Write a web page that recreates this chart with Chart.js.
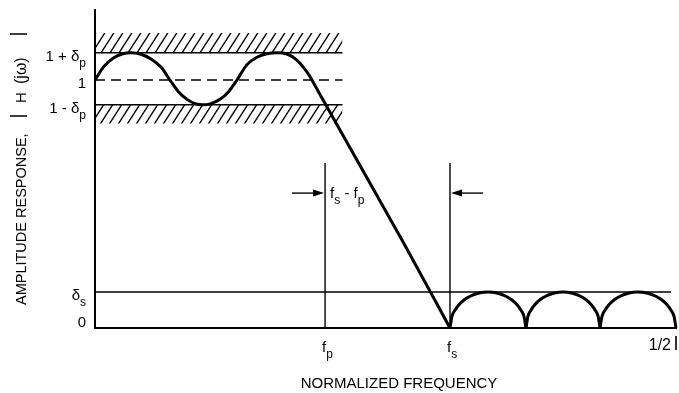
<!DOCTYPE html>
<html>
<head>
<meta charset="utf-8">
<script src="https://cdn.jsdelivr.net/npm/chart.js@4.4.1/dist/chart.umd.min.js"></script>
<style>
  html, body { margin: 0; padding: 0; background: #fff; }
  #wrap { width: 679px; height: 393px; position: relative; }
</style>
</head>
<body>
<div id="wrap"><canvas id="spec"></canvas></div>
<script>
// Lowpass filter tolerance scheme
var fp = 0.198;
var fs = 0.3055;
var fHalf = 0.5;
var passUpper = 1.11;     // 1 + delta_p
var passLower = 0.90;     // 1 - delta_p
var hatchTop = 1.19;
var hatchBottom = 0.825;
var hatchEnd = 0.213;
var deltaS = 0.145;
var stopLineEnd = 0.4957;
var markerTop = 0.665;
var arrowLevel = 0.544;
var arrowTails = [0.1695, 0.334];

// passband ripple + transition band
var passFreq = [0, 0.0077, 0.0155, 0.0232, 0.031, 0.0396, 0.0482, 0.0568, 0.0645,
  0.0714, 0.0792, 0.0861, 0.0929, 0.0998, 0.1076, 0.1153, 0.1222,
  0.1308, 0.1394, 0.148, 0.1566, 0.1652, 0.173, 0.1799, 0.1850, 0.1867,
  0.1997, 0.2108, 0.2642, 0.3055];
var passAmp = [1.0, 1.055, 1.088, 1.105, 1.11, 1.104, 1.085, 1.052, 1.0,
  0.955, 0.922, 0.905, 0.90, 0.905, 0.922, 0.955, 1.0,
  1.062, 1.092, 1.106, 1.11, 1.105, 1.083, 1.048, 1.014, 1.0,
  0.891, 0.798, 0.355, 0];

// stopband lobes
var arc1Freq = [0.3055, 0.3072, 0.3098, 0.3132, 0.3176, 0.3228, 0.3298, 0.3382,
  0.3466, 0.3536, 0.3588, 0.3632, 0.3666, 0.3692, 0.3709];
var arc2Freq = [0.3709, 0.3726, 0.3751, 0.3785, 0.3827, 0.3878, 0.3946, 0.4028,
  0.411, 0.4178, 0.4229, 0.4271, 0.4305, 0.433, 0.4346];
var arc3Freq = [0.4346, 0.4363, 0.4389, 0.4423, 0.4467, 0.4519, 0.4589, 0.4673,
  0.4757, 0.4827, 0.4879, 0.4923, 0.4957, 0.4983, 0.5];
var arcAmp = [0, 0.047, 0.072, 0.094, 0.113, 0.128, 0.140, 0.145,
  0.140, 0.128, 0.113, 0.094, 0.072, 0.047, 0];

var yTickLabels = [
  { value: passUpper, main: '1 + \u03b4', sub: 'p' },
  { value: 1, main: '1', sub: '' },
  { value: passLower, main: '1 - \u03b4', sub: 'p' },
  { value: deltaS, main: '\u03b4', sub: 's' },
  { value: 0, main: '0', sub: '' }
];
var xTickLabels = [
  { value: fp, main: 'f', sub: 'p' },
  { value: fs, main: 'f', sub: 's' }
];

var FONT = '"Liberation Sans", Arial, sans-serif';

function pts(xs, ys) {
  return xs.map(function(x, i) { return { x: x, y: ys[i] }; });
}
function hline(y, x0, x1) {
  return [{ x: x0, y: y }, { x: x1, y: y }];
}
function vline(x, y0, y1) {
  return [{ x: x, y: y0 }, { x: x, y: y1 }];
}

function makeHatch() {
  var c = document.createElement('canvas');
  c.width = 9; c.height = 14;
  var g = c.getContext('2d');
  g.strokeStyle = '#000';
  g.lineWidth = 1.4;
  g.beginPath();
  for (var k = -1; k <= 1; k++) {
    g.moveTo(k * 9 - 1, 14 + 14 / 9);
    g.lineTo(k * 9 + 10, -14 / 9);
  }
  g.stroke();
  return g.createPattern(c, 'repeat');
}

// text with a subscript, aligned 'left' | 'right'
function drawSub(ctx, main, sub, x, y, align, size, subSize) {
  ctx.font = size + 'px ' + FONT;
  var wm = ctx.measureText(main).width;
  ctx.font = subSize + 'px ' + FONT;
  var ws = sub ? ctx.measureText(sub).width : 0;
  var sx = align === 'right' ? x - wm - ws : x;
  ctx.textAlign = 'left';
  ctx.textBaseline = 'alphabetic';
  ctx.font = size + 'px ' + FONT;
  ctx.fillText(main, sx, y);
  if (sub) {
    ctx.font = subSize + 'px ' + FONT;
    ctx.fillText(sub, sx + wm, y + 6);
  }
  return sx + wm + ws;
}

function arrowHead(ctx, tipX, y, dir) {
  ctx.beginPath();
  ctx.moveTo(tipX, y);
  ctx.lineTo(tipX - dir * 11, y - 3.5);
  ctx.lineTo(tipX - dir * 11, y + 3.5);
  ctx.closePath();
  ctx.fill();
}

var labelPlugin = {
  id: 'schemeLabels',
  afterDraw: function(chart) {
    var ctx = chart.ctx;
    var xs = chart.scales.x, ys = chart.scales.y;
    var x0 = xs.getPixelForValue(0), y0 = ys.getPixelForValue(0);
    ctx.save();
    ctx.fillStyle = '#000';
    ctx.strokeStyle = '#000';

    // arrow heads on the transition-width markers
    var ay = ys.getPixelForValue(arrowLevel);
    arrowHead(ctx, xs.getPixelForValue(fp) - 1, ay, 1);
    arrowHead(ctx, xs.getPixelForValue(fs) + 1, ay, -1);

    // fs - fp label
    var lx = xs.getPixelForValue(fp) + 5, ly = ay + 5;
    lx = drawSub(ctx, 'f', 's', lx, ly, 'left', 15, 12);
    lx = drawSub(ctx, ' - f', 'p', lx, ly, 'left', 15, 12);

    // y tick labels
    yTickLabels.forEach(function(t) {
      var py = Math.min(ys.getPixelForValue(t.value) + 8, y0 - 1);
      drawSub(ctx, t.main, t.sub, x0 - 9, py, 'right', 15, 12);
    });

    // x tick labels
    xTickLabels.forEach(function(t) {
      drawSub(ctx, t.main, t.sub, xs.getPixelForValue(t.value) - 3, y0 + 24, 'left', 15, 12);
    });
    var hx = xs.getPixelForValue(fHalf);
    ctx.font = '16px ' + FONT;
    ctx.textAlign = 'right';
    ctx.fillText('1/2', hx - 5, y0 + 22);
    ctx.lineWidth = 1.6;
    ctx.beginPath();
    ctx.moveTo(hx, y0 + 8);
    ctx.lineTo(hx, y0 + 22);
    ctx.stroke();

    // x axis title
    ctx.font = '15px ' + FONT;
    ctx.textAlign = 'center';
    ctx.fillText('NORMALIZED FREQUENCY', 399, 388);

    // y axis title, rotated
    ctx.translate(26, 305);
    ctx.rotate(-Math.PI / 2);
    ctx.textAlign = 'left';
    ctx.font = '14.5px ' + FONT;
    ctx.fillText('AMPLITUDE RESPONSE,', 0, 0);
    ctx.font = '15px ' + FONT;
    ctx.fillText('H', 202, 0);
    ctx.font = '16px ' + FONT;
    ctx.fillText('(j\u03c9)', 221, 0);
    ctx.lineWidth = 1.5;
    ctx.beginPath();
    ctx.moveTo(189, 1); ctx.lineTo(189, -16);
    ctx.moveTo(271, 1); ctx.lineTo(271, -16);
    ctx.stroke();
    ctx.restore();
  }
};

var hatch = makeHatch();
var thin = { borderColor: '#000', borderWidth: 1.4, pointRadius: 0, fill: false };
var curve = { borderColor: '#000', borderWidth: 3, cubicInterpolationMode: 'monotone',
  pointRadius: 0, fill: false, clip: 4 };

var datasets = [
  Object.assign({ data: pts(passFreq, passAmp) }, curve),
  Object.assign({ data: pts(arc1Freq, arcAmp) }, curve),
  Object.assign({ data: pts(arc2Freq, arcAmp) }, curve),
  Object.assign({ data: pts(arc3Freq, arcAmp) }, curve),
  Object.assign({ data: hline(1, 0, hatchEnd), borderDash: [10, 6] }, thin),
  { data: hline(hatchTop, 0, hatchEnd), borderWidth: 0, pointRadius: 0,
    fill: '+1', backgroundColor: hatch },
  Object.assign({ data: hline(passUpper, 0, hatchEnd) }, thin),
  Object.assign({}, thin, { data: hline(passLower, 0, hatchEnd), fill: '+1', backgroundColor: hatch }),
  { data: hline(hatchBottom, 0, hatchEnd), borderWidth: 0, pointRadius: 0, fill: false },
  Object.assign({ data: hline(deltaS, 0, stopLineEnd) }, thin),
  Object.assign({ data: vline(fp, 0, markerTop) }, thin),
  Object.assign({ data: vline(fs, 0, markerTop) }, thin),
  Object.assign({ data: hline(arrowLevel, arrowTails[0], fp - 0.008) }, thin),
  Object.assign({ data: hline(arrowLevel, fs + 0.008, arrowTails[1]) }, thin)
];

new Chart(document.getElementById('spec'), {
  type: 'line',
  data: { datasets: datasets },
  options: {
    responsive: true,
    maintainAspectRatio: false,
    animation: false,
    events: [],
    layout: { padding: { left: 95, top: 10, right: 3, bottom: 65 } },
    plugins: { legend: { display: false }, tooltip: { enabled: false } },
    scales: {
      x: {
        type: 'linear', min: 0, max: fHalf,
        grid: { display: false, drawTicks: false },
        border: { display: true, color: '#000', width: 2 },
        ticks: { display: false },
        afterFit: function(s) { s.height = 0; }
      },
      y: {
        type: 'linear', min: 0, max: 1.2823,
        grid: { display: false, drawTicks: false },
        border: { display: true, color: '#000', width: 2 },
        ticks: { display: false },
        afterFit: function(s) { s.width = 0; }
      }
    }
  },
  plugins: [labelPlugin]
});
</script>
</body>
</html>
